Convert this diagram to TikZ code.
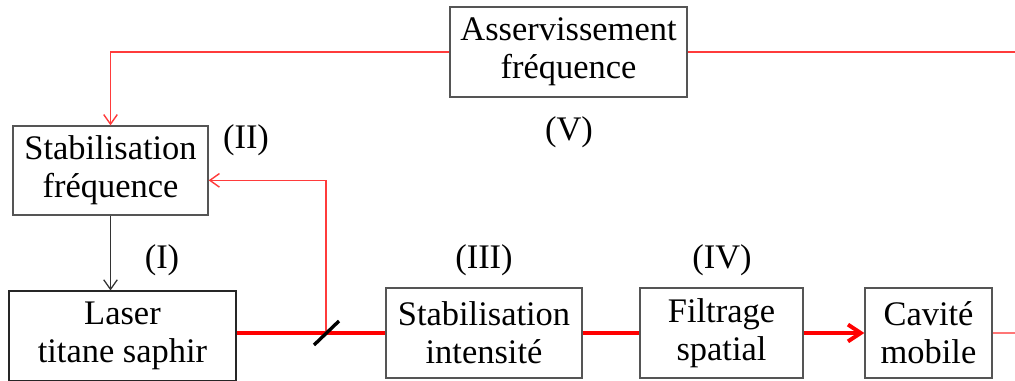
\documentclass[tikz,border=0pt]{standalone}
\usepackage{fontspec}
\setmainfont{Liberation Serif}
\usetikzlibrary{arrows.meta,positioning}
\definecolor{boxLine}{HTML}{555555}
\definecolor{beamRed}{HTML}{FF0000}
\definecolor{loopRed}{HTML}{FF3B3B}
\tikzset{
  box/.style={
    rectangle,
    draw=boxLine,
    line width=0.9pt,
    align=center,
    inner sep=0pt,
    font=\fontsize{24.5}{27}\selectfont
  },
  tag/.style={font=\fontsize{24.5}{27}\selectfont, inner sep=0pt},
  beam/.style={line width=2.8pt, draw=beamRed},
  loop/.style={line width=1pt, draw=loopRed},
  beamarrow/.style={beam, -{Straight Barb[length=3.2mm, width=4.2mm]}},
  looparrow/.style={loop, -{Straight Barb[length=2.4mm, width=3.4mm]}},
  ctrlarrow/.style={line width=0.9pt, draw=black!80, -{Straight Barb[length=2.4mm, width=3.4mm]}}
}
\begin{document}
\begin{tikzpicture}[x=0.025cm, y=-0.025cm]
  \useasboundingbox (0,0) rectangle (1015,381);
  % boxes
  \node[box, minimum width=237*0.025cm, minimum height=90*0.025cm] (asserv) at (568.5,52) {Asservissement\\fréquence};
  \node[box, minimum width=195*0.025cm, minimum height=89*0.025cm] (stabfreq) at (110.5,170.5) {Stabilisation\\fréquence};
  \node[box, draw=black!85, line width=0.8pt, minimum width=227*0.025cm, minimum height=90*0.025cm] (laser) at (122.5,336) {Laser\\titane saphir};
  \node[box, minimum width=196*0.025cm, minimum height=90*0.025cm] (stabint) at (484,333) {Stabilisation\\intensité};
  \node[box, minimum width=163*0.025cm, minimum height=90*0.025cm] (filtre) at (721.5,333) {Filtrage\\spatial};
  \node[box, minimum width=127*0.025cm, minimum height=90*0.025cm] (cavite) at (928.5,333) {Cavité\\mobile};
  % labels
  \node[tag] (labI) at (162,260) {(I)};
  \node[tag] (labII) at (246,140) {(II)};
  \node[tag] (labIII) at (484,260) {(III)};
  \node[tag] (labIV) at (722,260) {(IV)};
  \node[tag] (labV) at (569,132) {(V)};
  % free ends and splitter
  \coordinate (bs) at (326,333);
  \coordinate (outtop) at (1015,52);
  \coordinate (outbeam) at (1015,333);

  \draw[beam] (laser.east |- stabint.west) -- (stabint.west);
  \draw[beam] (stabint.east) -- (filtre.west);
  \draw[beamarrow] (filtre.east) -- (cavite.west);
  \draw[loop, draw=loopRed!70] (cavite.east) -- (outbeam);
  \draw[looparrow] (bs) |- ([yshift=-7pt]stabfreq.east);
  \draw[looparrow] (asserv.west) -| (stabfreq.north);
  \draw[loop] (asserv.east) -- (outtop);
  \draw[ctrlarrow] (stabfreq.south) -- (stabfreq.south |- laser.north);
  \draw[line width=2.4pt, black] (bs) ++(-12,12) -- ++(25,-24);
\end{tikzpicture}
\end{document}
